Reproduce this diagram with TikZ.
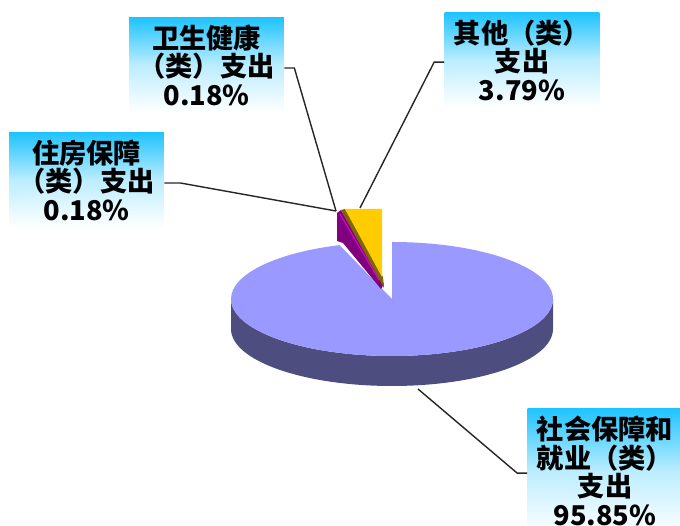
\documentclass[tikz,border=0pt]{standalone}
\usepackage{fontspec}
\newfontfamily\cjk{Noto Sans CJK SC}
\usepackage{xcolor}
\definecolor{lavender}{RGB}{153,153,255}
\definecolor{lavside}{RGB}{77,77,128}
\definecolor{gold}{RGB}{255,204,0}
\definecolor{darkgold}{RGB}{128,102,0}
\definecolor{plum}{RGB}{128,0,128}
\definecolor{pinkline}{RGB}{230,0,230}
\definecolor{skyblue}{RGB}{30,195,255}
\tikzstyle{leader} = [draw=black!85, line width=0.8pt]

\begin{document}
\begin{tikzpicture}
        [
            x=0.02cm, y=-0.02cm,
            lbox/.style={rectangle, top color=skyblue, bottom color=white, middle color=skyblue!30!white, minimum width=3.1cm, minimum height=1.9cm, align=center, inner sep=0pt, font=\cjk\bfseries\fontsize{15.5}{16.2}\selectfont},
        ]
    \useasboundingbox (0,0) rectangle (680,526);

    % pie body
    \fill[lavside] (553,299) arc[start angle=0, end angle=180, x radius=161, y radius=57] -- ++(0,30) arc[start angle=180, end angle=0, x radius=161, y radius=57] -- cycle;
    \fill[lavender] (392,299) -- (392,242) arc[start angle=-90, end angle=251, x radius=161, y radius=57] -- cycle;

    % exploded slices
    \fill[plum] (337,213) -- (341,210) -- (384,284) -- (381,289) -- (343,243) -- (337,241) -- cycle;
    \draw[pinkline, line width=0.5pt] (340,214) -- (379,280);
    \fill[darkgold] (341,210) -- (345,209) -- (383,277) -- (384,288) -- cycle;
    \fill[gold] (345,209) -- (382,209) -- (382,277) -- cycle;

    % labels
    \node[lbox] (wsbox) at (206.5,65) {卫生健康\\（类）支出\\0.18\%};
    \node[lbox] (zfbox) at (86.5,180) {住房保障\\（类）支出\\0.18\%};
    \node[lbox] (qtbox) at (522,60) {其他（类）\\支出\\3.79\%};
    \node[lbox, minimum height=2.52cm] (shbox) at (605,471) {社会保障和\\就业（类）\\支出\\95.85\%};

    \coordinate (wsend) at (336,211);
    \coordinate (zfend) at (336,211);
    \coordinate (qtend) at (360,208);
    \coordinate (shend) at (418,389);

    \draw[leader] ([yshift=-1.7pt]wsbox.east) -- ++(10,0) -- (wsend);
    \draw[leader] ([yshift=-1.7pt]zfbox.east) -- ++(16,0) -- (zfend);
    \draw[leader] ([yshift=-1.2pt]qtbox.west) -- ++(-10,0) -- (qtend);
    \draw[leader] ([yshift=-1.2pt]shbox.west) -- ++(-10,0) -- (shend);
    \end{tikzpicture}
\end{document}
